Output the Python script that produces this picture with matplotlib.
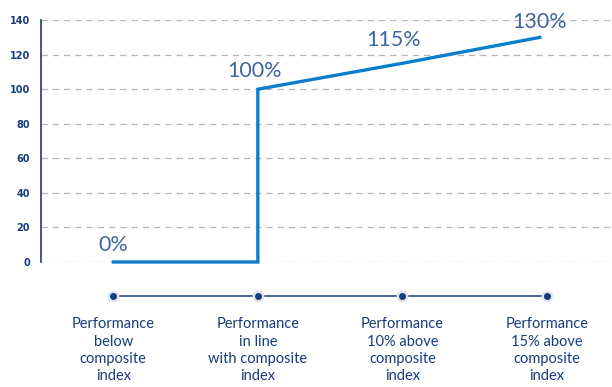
import matplotlib.pyplot as plt

# chart data
categories = ['Performance\nbelow\ncomposite\nindex',
              'Performance\nin line\nwith composite\nindex',
              'Performance\n10% above\ncomposite\nindex',
              'Performance\n15% above\ncomposite\nindex']
cat_pos = [0, 1, 2, 3]
line_x = [0, 1, 1, 2, 2.95]
line_y = [0, 0, 100, 115, 130]
label_x = [0, 0.98, 1.94, 2.95]
label_y = [4, 105, 122.5, 133]
label_txt = ['0%', '100%', '115%', '130%']
yticks = [0, 20, 40, 60, 80, 100, 120, 140]

navy = '#163d7a'
blue = '#0a7dcc'
txt_blue = '#3f64a0'

fig = plt.figure(figsize=(6.12, 3.87), dpi=100)
ax = fig.add_axes([0.067, 0.323, 0.933, 0.625])
ax.set_xlim(-0.5, 3.45)
ax.set_ylim(0, 140)
for y in yticks:
    ax.axhline(y, color='#b5b5b5', linestyle=(0, (5, 4)), linewidth=0.9, zorder=1)
ax.plot(line_x, line_y, color=blue, linewidth=2.4, zorder=3,
        solid_joinstyle='miter', clip_on=False)
for x, y, t in zip(label_x, label_y, label_txt):
    ax.text(x, y, t, ha='center', va='bottom', fontsize=15.5,
            color=txt_blue, fontfamily='Lato', zorder=4)
for s in ['top', 'right', 'bottom']:
    ax.spines[s].set_visible(False)
ax.spines['left'].set_color(navy)
ax.spines['left'].set_linewidth(1.2)
ax.set_xticks([])
ax.set_yticks(yticks)
ax.tick_params(axis='y', length=0, pad=8, labelsize=7, labelcolor=navy)
for lab in ax.get_yticklabels():
    lab.set_fontweight('bold')

# bottom timeline with category labels
ax2 = fig.add_axes([0.067, 0.0, 0.933, 0.30])
ax2.set_xlim(-0.5, 3.45)
ax2.set_ylim(0, 1)
ax2.axis('off')
ax2.plot([cat_pos[0], cat_pos[-1]], [0.78, 0.78], color=navy, linewidth=1.1, zorder=1)
ax2.scatter(cat_pos, [0.78] * len(cat_pos), s=55, color='#dfe6f0', zorder=2)
ax2.scatter(cat_pos, [0.78] * len(cat_pos), s=16, color=navy, zorder=3)
for x, c in zip(cat_pos, categories):
    ax2.text(x, 0.6, c, ha='center', va='top', fontsize=10.5, color=navy,
             fontfamily='Lato', linespacing=1.3)

fig.savefig('out.png', dpi=100)
